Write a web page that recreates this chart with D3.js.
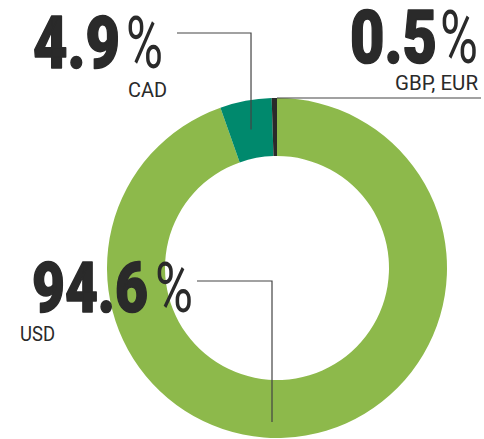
<!DOCTYPE html>
<html>
<head>
<meta charset="utf-8">
<script src="https://cdn.jsdelivr.net/npm/d3@7"></script>
<style>
  body { margin: 0; background: #fff; }
  svg { display: block; }
</style>
</head>
<body>
<div id="main"></div>
<script>
// shares of currency, clockwise from 12 o'clock
const currencies = ['USD', 'CAD', 'GBP, EUR'];
const shares = [94.6, 4.9, 0.5];
const shareLabels = ['94.6', '4.9', '0.5'];
const colors = ['#8db94b', '#00896d', '#2a2a2a'];

const width = 484, height = 439;
const cx = 277, cy = 268;
const outerR = 170, innerR = 112;

const svg = d3.select('#main').append('svg')
  .attr('width', width)
  .attr('height', height);

const g = svg.append('g')
  .attr('transform', 'translate(' + cx + ',' + cy + ')');

const pie = d3.pie().sort(null).value(d => d.value);
const arc = d3.arc().innerRadius(innerR).outerRadius(outerR);

const data = currencies.map((c, i) => ({ name: c, value: shares[i], label: shareLabels[i], color: colors[i] }));
const arcs = pie(data);

g.selectAll('path.slice')
  .data(arcs)
  .enter().append('path')
  .attr('class', 'slice')
  .attr('d', arc)
  .attr('fill', d => d.data.color);

// label layout (pixel placement of each callout)
const layout = {
  'USD':      { nx: 32,  nw: 116, px: 155, pw: 38, base: 312, size: 70, sx: 20,  sw: 35, sbase: 341 },
  'CAD':      { nx: 33,  nw: 87,  px: 126, pw: 37, base: 68,  size: 72, sx: 128, sw: 39, sbase: 97 },
  'GBP, EUR': { nx: 350, nw: 87,  px: 440, pw: 38, base: 63,  size: 75, sx: 395, sw: 83, sbase: 90 }
};

function pointAt(angle, r) {
  return [cx + r * Math.sin(angle), cy - r * Math.cos(angle)];
}

// leader lines
const leaders = arcs.map(a => {
  const n = a.data.name;
  if (n === 'CAD') {
    const c = arc.centroid(a);
    return [[177, 33], [cx + c[0], 33], [cx + c[0], cy + c[1]]];
  }
  if (n === 'USD') {
    const p = pointAt(Math.PI, 154);
    return [[197, 281], [p[0] - 5, 281], [p[0] - 5, p[1]]];
  }
  const p = pointAt(a.endAngle, outerR);
  return [[p[0], p[1]], [481, p[1]]];
});

svg.selectAll('path.leader')
  .data(leaders)
  .enter().append('path')
  .attr('class', 'leader')
  .attr('d', d3.line())
  .attr('fill', 'none')
  .attr('stroke', '#444')
  .attr('stroke-width', 1.2);

const labels = svg.selectAll('g.label')
  .data(arcs)
  .enter().append('g')
  .attr('class', 'label');

labels.append('text')
  .attr('x', d => layout[d.data.name].nx)
  .attr('y', d => layout[d.data.name].base)
  .attr('textLength', d => layout[d.data.name].nw)
  .attr('lengthAdjust', 'spacingAndGlyphs')
  .style('font-family', 'Roboto, sans-serif')
  .style('font-weight', 900)
  .style('font-size', d => layout[d.data.name].size + 'px')
  .attr('fill', '#2a2a2a')
  .attr('stroke', '#2a2a2a')
  .attr('stroke-width', 1.6)
  .attr('stroke-linejoin', 'round')
  .text(d => d.data.label);

labels.append('text')
  .attr('x', d => layout[d.data.name].px)
  .attr('y', d => layout[d.data.name].base)
  .attr('textLength', d => layout[d.data.name].pw)
  .attr('lengthAdjust', 'spacingAndGlyphs')
  .style('font-family', 'Roboto, sans-serif')
  .style('font-weight', 400)
  .style('font-size', d => layout[d.data.name].size + 'px')
  .attr('fill', '#2a2a2a')
  .text('%');

labels.append('text')
  .attr('x', d => layout[d.data.name].sx)
  .attr('y', d => layout[d.data.name].sbase)
  .attr('textLength', d => layout[d.data.name].sw)
  .attr('lengthAdjust', 'spacingAndGlyphs')
  .style('font-family', 'Roboto, sans-serif')
  .style('font-size', '21px')
  .attr('fill', '#2a2a2a')
  .text(d => d.data.name);
</script>
</body>
</html>
